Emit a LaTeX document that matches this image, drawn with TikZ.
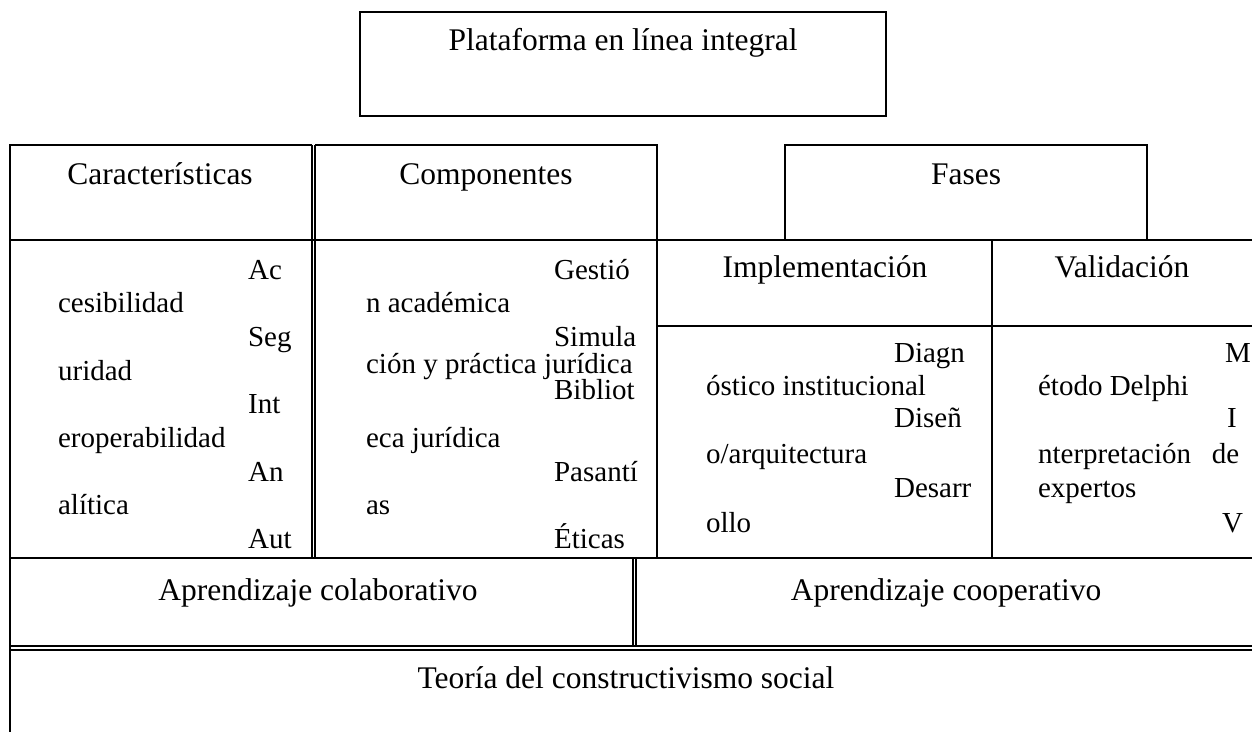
\documentclass[tikz,border=0pt]{standalone}
\usepackage{fontspec}
\setmainfont{Liberation Serif}
\begin{document}
\begin{tikzpicture}[x=0.5pt,y=-0.5pt,line width=1.1pt,
  lbl/.style={inner sep=0pt,anchor=base,font=\fontsize{15.75}{18}\selectfont},
  lft/.style={inner sep=0pt,anchor=base west,font=\fontsize{14.5}{17}\selectfont}]
\useasboundingbox (0,0) rectangle (1252,732);

% title box
\draw (360,12) rectangle (886,116);
\node[lbl] (plat) at (623,51) {Plataforma en línea integral};

% frame of the table
\draw (312,145) -- (10,145) -- (10,732);
\draw (315,145) -- (657,145) -- (657,558);
\draw (785,240) -- (785,145) -- (1147,145) -- (1147,240);
\draw (312,145) -- (312,558);
\draw (315,145) -- (315,558);
\draw (10,240) -- (1252,240);
\draw (657,326) -- (1252,326);
\draw (992,240) -- (992,558);
\draw (10,558) -- (1252,558);
\draw (633,558) -- (633,646);
\draw (636,558) -- (636,646);
\draw (10,646) -- (1252,646);
\draw (10,650) -- (1252,650);

% headers
\node[lbl] (carac) at (160,185) {Características};
\node[lbl] (comp) at (486,185) {Componentes};
\node[lbl] (fases) at (966,185) {Fases};
\node[lbl] (impl) at (825,278) {Implementación};
\node[lbl] (valid) at (1122,278) {Validación};

% caracteristicas
\node[lft] (c1) at (247,280) {Ac};
\node[lft] (c2) at (57,313) {cesibilidad};
\node[lft] (c3) at (247,347) {Seg};
\node[lft] (c4) at (57,380) {uridad};
\node[lft] (c5) at (247,414) {Int};
\node[lft] (c6) at (57,447) {eroperabilidad};
\node[lft] (c7) at (247,481) {An};
\node[lft] (c8) at (57,514) {alítica};
\node[lft] (c9) at (247,548) {Aut};

% componentes
\node[lft] (k1) at (553,280) {Gestió};
\node[lft] (k2) at (365,313) {n académica};
\node[lft] (k3) at (553,347) {Simula};
\node[lft] (k4) at (365,373) {ción y práctica jurídica};
\node[lft] (k5) at (553,400) {Bibliot};
\node[lft] (k6) at (365,447) {eca jurídica};
\node[lft] (k7) at (553,481) {Pasantí};
\node[lft] (k8) at (365,514) {as};
\node[lft] (k9) at (553,548) {Éticas};

% implementacion
\node[lft] (i1) at (893,363) {Diagn};
\node[lft] (i2) at (705,395) {óstico institucional};
\node[lft] (i3) at (893,428) {Diseñ};
\node[lft] (i4) at (705,463) {o/arquitectura};
\node[lft] (i5) at (893,497) {Desarr};
\node[lft] (i6) at (705,532) {ollo};

% validacion
\node[lft] (v1) at (1224,363) {M};
\node[lft] (v2) at (1037,395) {étodo Delphi};
\node[lft] (v3) at (1226,428) {I};
\node[lft] (v4) at (1037,463) {\makebox[100.5pt][s]{nterpretación de}};
\node[lft] (v5) at (1037,497) {expertos};
\node[lft] (v6) at (1221,532) {V};

% bottom rows
\node[lbl] (colab) at (318,600) {Aprendizaje colaborativo};
\node[lbl] (coop) at (946,600) {Aprendizaje cooperativo};
\node[lbl] (teoria) at (626,688) {Teoría del constructivismo social};
\end{tikzpicture}
\end{document}
